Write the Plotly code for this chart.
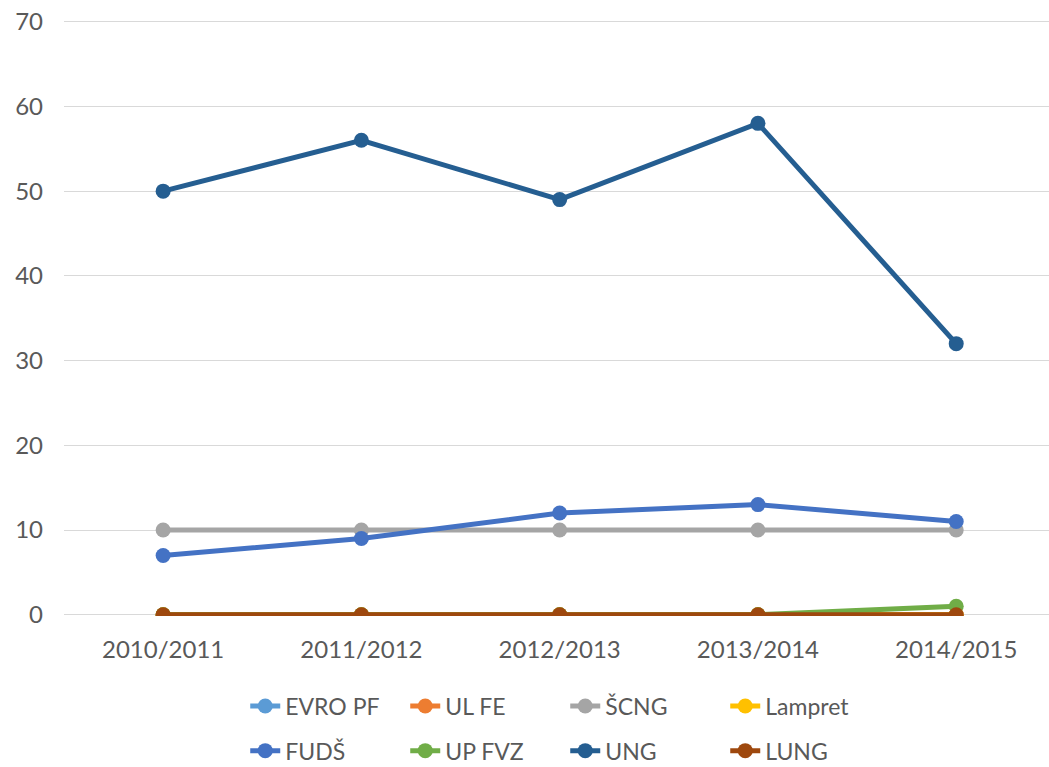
import plotly.graph_objects as go

categories = ["2010/2011", "2011/2012", "2012/2013", "2013/2014", "2014/2015"]
evro_pf = [0, 0, 0, 0, 0]
ul_fe = [0, 0, 0, 0, 0]
scng = [10, 10, 10, 10, 10]
lampret = [0, 0, 0, 0, 0]
fuds = [7, 9, 12, 13, 11]
up_fvz = [0, 0, 0, 0, 1]
ung = [50, 56, 49, 58, 32]
lung = [0, 0, 0, 0, 0]

series = [
    ("EVRO PF", evro_pf, "#5B9BD5", "legend"),
    ("UL FE", ul_fe, "#ED7D31", "legend"),
    ("ŠCNG", scng, "#A5A5A5", "legend"),
    ("Lampret", lampret, "#FFC000", "legend"),
    ("FUDŠ", fuds, "#4472C4", "legend2"),
    ("UP FVZ", up_fvz, "#70AD47", "legend2"),
    ("UNG", ung, "#255E91", "legend2"),
    ("LUNG", lung, "#9E480E", "legend2"),
]

fig = go.Figure()
for name, vals, col, leg in series:
    fig.add_trace(go.Scatter(
        x=categories, y=vals, name=name, mode="lines+markers",
        line=dict(color=col, width=5),
        marker=dict(color=col, size=15),
        legend=leg,
    ))

font = dict(family="Lato, Open Sans, sans-serif", size=24, color="#595959")
legfont = dict(family="Lato, Open Sans, sans-serif", size=23, color="#595959")
legend_common = dict(
    orientation="h", xanchor="left", yanchor="middle",
    entrywidth=115, entrywidthmode="pixels",
    font=legfont, bgcolor="rgba(0,0,0,0)", traceorder="normal",
)
fig.update_layout(
    width=1049, height=767,
    margin=dict(l=64, r=0, t=20, b=151, autoexpand=False),
    paper_bgcolor="white", plot_bgcolor="white",
    font=font,
    showlegend=True,
    legend=dict(x=0.184, y=-0.151, **legend_common),
    legend2=dict(x=0.184, y=-0.226, **legend_common),
    xaxis=dict(
        type="category", range=[-0.5, 4.468],
        showgrid=False, zeroline=False, showline=False,
        ticks="", tickfont=font, ticklabelstandoff=17,
    ),
    yaxis=dict(
        range=[-0.15, 70.2], tickvals=[0, 10, 20, 30, 40, 50, 60, 70],
        showgrid=True, gridcolor="#D9D9D9", gridwidth=1,
        zeroline=False, showline=False, ticks="", tickfont=font,
        ticklabelstandoff=20, ticklabeloverflow="allow",
    ),
)

fig.write_html(
    "out.html",
    config={"displayModeBar": False},
    post_script="document.body.style.margin='0';document.body.style.overflow='hidden';",
)
